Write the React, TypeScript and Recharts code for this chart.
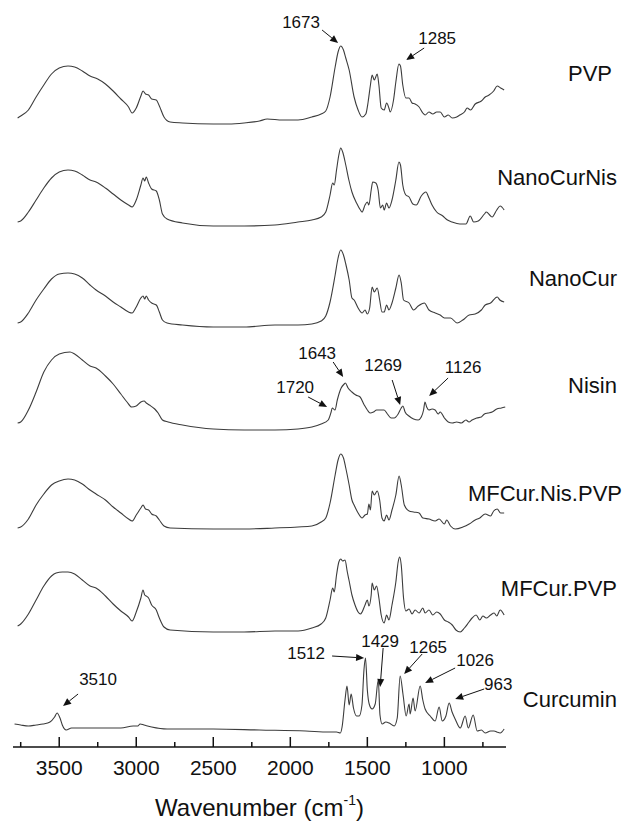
import { LineChart, Line, XAxis, YAxis, ReferenceDot, Label } from 'recharts'

// wavenumber axis (cm-1), reversed as in FTIR plots
const xTicks = [3750, 3500, 3250, 3000, 2750, 2500, 2250, 2000, 1750, 1500, 1250, 1000, 750]

const seriesNames = ['PVP', 'NanoCurNis', 'NanoCur', 'Nisin', 'MFCur.Nis.PVP', 'MFCur.PVP', 'Curcumin']
// vertical stacking offset of each trace (a.u.)
const seriesOffsets = [624, 521, 420, 317, 219, 116, 17]
// where the name sits, relative to the trace offset
const labelLevels = [50, 49, 49, 45, 35, 43, 31]

// [wavenumber, intensity]
const pvp = [
  [3770, 5], [3750, 7], [3700, 13], [3650, 26], [3600, 38], [3550, 49], [3500, 55], [3443, 57], [3400, 56],
  [3350, 52], [3300, 47], [3250, 44], [3200, 39], [3150, 32], [3100, 24], [3050, 16], [3027, 10], [3000, 15],
  [2970, 27], [2956, 32], [2940, 29], [2920, 28], [2900, 24], [2870, 23], [2850, 17], [2820, 6], [2780, 1],
  [2700, 0], [2500, -1], [2400, -1], [2300, 0], [2200, 2], [2150, 4], [2050, 3], [1950, 3], [1860, 6],
  [1800, 9], [1770, 12], [1742, 26], [1709, 56], [1690, 71], [1673, 77], [1655, 73], [1640, 65], [1618, 53],
  [1586, 26], [1560, 13], [1534, 6], [1510, 9], [1495, 21], [1480, 38], [1469, 48], [1455, 43], [1436, 49],
  [1425, 38], [1410, 15], [1391, 13], [1375, 20], [1360, 15], [1352, 11], [1330, 23], [1315, 41], [1295, 59],
  [1285, 57], [1270, 38], [1250, 25], [1229, 25], [1210, 20], [1190, 19], [1164, 16], [1140, 10], [1125, 8],
  [1100, 11], [1075, 9], [1050, 11], [1027, 11], [1000, 6], [975, 8], [949, 5], [920, 6], [900, 8], [870, 11],
  [852, 15], [830, 13], [800, 19], [760, 22], [735, 26], [710, 28], [680, 32], [657, 37], [635, 35], [612, 33],
]

const nanoCurNis = [
  [3770, 4], [3750, 5], [3700, 14], [3650, 26], [3600, 38], [3550, 48], [3500, 54], [3443, 56], [3400, 55],
  [3350, 51], [3300, 46], [3261, 44], [3200, 38], [3150, 32], [3100, 26], [3050, 21], [3027, 19], [3000, 26],
  [2970, 41], [2956, 48], [2945, 45], [2935, 49], [2920, 43], [2900, 37], [2870, 35], [2850, 26], [2830, 12],
  [2800, 7], [2700, 3], [2500, 0], [2300, 0], [2100, 1], [1950, 4], [1860, 6], [1800, 9], [1770, 14],
  [1742, 31], [1725, 43], [1715, 41], [1700, 56], [1685, 71], [1673, 78], [1660, 74], [1640, 61], [1620, 46],
  [1600, 34], [1570, 23], [1545, 16], [1534, 14], [1515, 21], [1500, 24], [1490, 21], [1475, 36], [1465, 44],
  [1445, 43], [1430, 36], [1415, 18], [1400, 21], [1391, 16], [1375, 23], [1360, 18], [1340, 26], [1315, 46],
  [1295, 64], [1285, 61], [1270, 41], [1250, 31], [1229, 29], [1205, 22], [1183, 21], [1150, 30], [1120, 34],
  [1100, 28], [1080, 21], [1050, 14], [1010, 10], [980, 6], [950, 4], [900, 2], [860, 2], [832, 10], [810, 4],
  [780, 5], [740, 12], [728, 14], [700, 10], [690, 9], [660, 16], [638, 20], [612, 16],
]

const nanoCur = [
  [3770, 4], [3750, 5], [3700, 14], [3650, 27], [3600, 38], [3550, 48], [3500, 53], [3443, 54], [3400, 53],
  [3350, 49], [3300, 42], [3261, 37], [3200, 31], [3150, 25], [3100, 20], [3050, 15], [3027, 14], [3000, 20],
  [2970, 29], [2956, 31], [2945, 28], [2935, 31], [2920, 27], [2900, 24], [2870, 22], [2850, 15], [2830, 7],
  [2800, 4], [2700, 2], [2500, 0], [2300, 0], [2100, 2], [1950, 2], [1860, 3], [1800, 6], [1770, 11],
  [1742, 25], [1709, 52], [1690, 69], [1673, 77], [1655, 72], [1640, 63], [1618, 47], [1600, 29], [1586, 27],
  [1560, 19], [1534, 14], [1515, 17], [1500, 13], [1485, 19], [1469, 40], [1455, 35], [1436, 39], [1420, 27],
  [1405, 15], [1391, 15], [1375, 22], [1360, 17], [1340, 24], [1315, 39], [1294, 52], [1280, 44], [1265, 27],
  [1229, 24], [1200, 17], [1170, 21], [1130, 24], [1100, 17], [1060, 14], [1027, 12], [1000, 9], [960, 9],
  [917, 4], [880, 7], [839, 12], [800, 13], [760, 17], [735, 22], [700, 24], [657, 30], [640, 27], [612, 25],
]

const nisin = [
  [3770, 7], [3750, 8], [3700, 20], [3650, 38], [3600, 58], [3550, 70], [3500, 76], [3430, 78], [3400, 76],
  [3350, 70], [3300, 64], [3261, 62], [3200, 54], [3150, 46], [3100, 36], [3060, 28], [3030, 23], [3000, 24],
  [2970, 28], [2949, 29], [2935, 27], [2915, 25], [2880, 21], [2858, 17], [2830, 10], [2793, 8], [2700, 5],
  [2500, 1], [2300, 0], [2100, 0], [1950, 1], [1860, 3], [1800, 6], [1754, 10], [1735, 18], [1728, 22],
  [1710, 20], [1695, 30], [1670, 42], [1650, 46], [1643, 47], [1625, 42], [1600, 38], [1575, 35], [1547, 33],
  [1520, 25], [1500, 20], [1482, 17], [1460, 18], [1440, 20], [1410, 20], [1391, 20], [1370, 16], [1345, 12],
  [1326, 12], [1300, 16], [1280, 22], [1269, 24], [1255, 18], [1230, 14], [1200, 11], [1170, 10], [1150, 13],
  [1135, 20], [1126, 28], [1115, 23], [1100, 20], [1080, 21], [1060, 20], [1040, 16], [1027, 18], [1000, 12],
  [975, 8], [949, 7], [920, 8], [890, 7], [860, 10], [840, 8], [820, 10], [790, 12], [760, 13], [740, 16],
  [716, 17], [690, 18], [660, 21], [630, 22], [605, 23],
]

const mfCurNisPvp = [
  [3770, 0], [3750, 1], [3700, 9], [3650, 23], [3600, 34], [3550, 43], [3500, 47], [3443, 49], [3400, 48],
  [3350, 44], [3300, 38], [3261, 34], [3200, 28], [3150, 21], [3100, 15], [3050, 9], [3027, 7], [3000, 13],
  [2970, 20], [2956, 23], [2940, 19], [2920, 18], [2900, 14], [2870, 12], [2850, 8], [2820, 2], [2780, 0],
  [2500, -1], [2300, -1], [2100, 0], [1950, 1], [1860, 2], [1800, 6], [1770, 10], [1742, 25], [1709, 53],
  [1690, 68], [1673, 74], [1655, 70], [1640, 60], [1618, 43], [1600, 28], [1586, 23], [1560, 15], [1534, 10],
  [1515, 13], [1500, 14], [1490, 24], [1480, 18], [1469, 37], [1455, 33], [1436, 37], [1420, 28], [1405, 10],
  [1391, 7], [1375, 13], [1360, 8], [1340, 18], [1315, 33], [1294, 52], [1280, 43], [1260, 23], [1229, 17],
  [1200, 16], [1164, 15], [1140, 10], [1100, 9], [1060, 7], [1034, 9], [1000, 4], [985, 8], [960, 2],
  [930, -1], [880, 1], [839, 4], [800, 8], [770, 10], [735, 14], [700, 12], [680, 17], [657, 19], [635, 15],
  [612, 15],
]

const mfCurPvp = [
  [3770, 5], [3750, 7], [3700, 17], [3650, 31], [3600, 45], [3550, 55], [3520, 58], [3480, 59], [3443, 59],
  [3400, 57], [3350, 51], [3300, 45], [3261, 43], [3200, 35], [3150, 27], [3100, 20], [3050, 14], [3027, 10],
  [3000, 19], [2970, 33], [2956, 41], [2945, 36], [2935, 35], [2920, 33], [2900, 26], [2870, 21], [2850, 13],
  [2820, 4], [2780, 1], [2500, -1], [2300, -1], [2100, 0], [1950, 0], [1860, 3], [1800, 7], [1770, 13],
  [1742, 31], [1725, 43], [1715, 39], [1700, 56], [1685, 69], [1673, 72], [1660, 70], [1645, 71], [1630, 59],
  [1618, 50], [1600, 36], [1580, 26], [1560, 19], [1545, 17], [1534, 19], [1515, 26], [1500, 31], [1490, 25],
  [1475, 36], [1469, 48], [1455, 41], [1440, 45], [1425, 33], [1410, 16], [1391, 8], [1375, 16], [1360, 11],
  [1340, 26], [1315, 49], [1300, 69], [1290, 74], [1280, 66], [1265, 33], [1250, 20], [1229, 22], [1210, 17],
  [1190, 21], [1164, 18], [1140, 23], [1125, 18], [1100, 21], [1075, 16], [1050, 19], [1027, 17], [1000, 11],
  [975, 9], [949, 6], [925, 1], [897, -1], [870, 3], [840, 9], [820, 13], [794, 16], [770, 11], [750, 15],
  [728, 13], [700, 16], [677, 18], [660, 15], [638, 21], [612, 16],
]

const curcumin = [
  [3790, 6], [3750, 5], [3700, 4], [3650, 5], [3605, 6], [3560, 8], [3530, 13], [3514, 17], [3495, 12],
  [3480, 5], [3455, 0], [3420, 2], [3300, 2], [3100, 2], [3020, 4], [2990, 4], [2975, 6], [2950, 5],
  [2900, 3], [2800, 1], [2500, 1], [2200, 0], [1900, -1], [1750, -2], [1700, -2], [1675, -3], [1664, 3],
  [1645, 30], [1632, 44], [1618, 25], [1605, 36], [1590, 22], [1570, 14], [1553, 14], [1535, 25], [1522, 60],
  [1512, 72], [1500, 40], [1488, 26], [1469, 21], [1449, 26], [1429, 50], [1418, 15], [1404, 6], [1380, 8],
  [1358, 7], [1326, 4], [1306, 12], [1287, 54], [1268, 35], [1248, 14], [1229, 26], [1222, 16], [1203, 32],
  [1190, 19], [1157, 44], [1140, 30], [1125, 21], [1092, 14], [1060, 9], [1034, 23], [1014, 9], [990, 14],
  [969, 27], [950, 18], [930, 11], [897, 2], [865, 14], [845, 2], [813, 15], [787, -1], [760, 0], [735, -3],
  [700, -1], [677, -1], [660, -2], [638, -3], [612, 1],
]

const spectra = [pvp, nanoCurNis, nanoCur, nisin, mfCurNisPvp, mfCurPvp, curcumin]

// peak callouts: text, trace index, arrow tip (wavenumber, intensity on that trace)
const calloutText = ['1673', '1285', '1720', '1643', '1269', '1126', '3510', '1512', '1429', '1265', '1026', '963']
const calloutSeries = [0, 0, 3, 3, 3, 3, 6, 6, 6, 6, 6, 6]
const calloutWn = [1690, 1248, 1761, 1657, 1287, 1099, 3475, 1521, 1417, 1261, 1125, 930]
const calloutLevel = [80, 63, 23, 53, 25, 34, 24, 72, 43, 56, 47, 31]

// pixel layout of each callout relative to its arrow tip: [tailDx, tailDy, textDx, textDy]
const calloutLayout = [
  [-16, -13, -37, -21], [18, -12, 31, -22], [-19, -10, -32, -20], [-10, -15, -26, -24],
  [-8, -25, -17, -40], [19, -18, 34, -29], [15, -12, 35, -27], [-32, -2, -58, -5],
  [3, -39, 0, -46], [18, -20, 24, -27], [30, -15, 50, -23], [29, -10, 43, -15],
]
const labelRight = [106, 111, 111, 111, 116, 111, 111]

const FONT = '"Liberation Sans", Arial, sans-serif'
const INK = '#111'

function WnTick(props: any) {
  const { x, y, payload } = props
  const v = payload.value
  const major = v % 500 === 0
  return (
    <g>
      <line x1={x} x2={x} y1={y} y2={y - (major ? 10 : 5)} stroke={INK} strokeWidth={1.5} />
      {major && (
        <text x={x} y={y + 28} textAnchor="middle" fontSize={21} fill={INK} fontFamily={FONT}>
          {v}
        </text>
      )}
    </g>
  )
}

function AxisTitle(props: any) {
  const { x, y, width } = props.viewBox
  return (
    <text x={x + width / 2} y={y + 69} textAnchor="middle" fontSize={24} fill={INK} fontFamily={FONT}>
      Wavenumber (cm
      <tspan fontSize={14} dy={-11}>-1</tspan>
      <tspan dy={11}>)</tspan>
    </text>
  )
}

function Callout({ cx, cy, text, layout }: any) {
  const [tdx, tdy, lx, ly] = layout
  const tx = cx + tdx
  const ty = cy + tdy
  const len = Math.hypot(cx - tx, cy - ty)
  const ux = (cx - tx) / len
  const uy = (cy - ty) / len
  const head = 8
  const hw = 3.5
  const bx = cx - ux * head
  const by = cy - uy * head
  return (
    <g>
      <line x1={tx} y1={ty} x2={bx} y2={by} stroke={INK} strokeWidth={1} />
      <polygon
        points={`${cx},${cy} ${bx - uy * hw},${by + ux * hw} ${bx + uy * hw},${by - ux * hw}`}
        fill={INK}
      />
      <text x={cx + lx} y={cy + ly} dy="0.35em" textAnchor="middle" fontSize={17} fill={INK} fontFamily={FONT}>
        {text}
      </text>
    </g>
  )
}

export default function App() {
  return (
    <div style={{ position: 'absolute', left: 0, top: 0, background: '#fff' }}>
      <LineChart width={624} height={822} margin={{ top: 20, right: 118, bottom: 15, left: 13 }}>
        <XAxis
          type="number"
          dataKey="wn"
          domain={[600, 3800]}
          reversed
          allowDataOverflow
          ticks={xTicks}
          interval={0}
          height={60}
          tickLine={false}
          tickSize={0}
          tickMargin={0}
          axisLine={{ stroke: INK, strokeWidth: 1.5 }}
          tick={<WnTick />}
        >
          <Label content={<AxisTitle />} />
        </XAxis>
        <YAxis type="number" domain={[0, 727]} hide />
        {spectra.map((pts, i) => (
          <Line
            key={seriesNames[i]}
            name={seriesNames[i]}
            data={pts.map(([wn, a]) => ({ wn, v: seriesOffsets[i] + a }))}
            dataKey="v"
            type="monotone"
            dot={false}
            stroke="#3c3c3c"
            strokeWidth={1.1}
            isAnimationActive={false}
          />
        ))}
        {seriesNames.map((name, i) => (
          <ReferenceDot
            key={'lbl' + name}
            x={600}
            y={seriesOffsets[i] + labelLevels[i]}
            ifOverflow="visible"
            shape={(p: any) => (
              <text x={p.cx + labelRight[i]} y={p.cy} dy="0.35em" textAnchor="end" fontSize={22} fill={INK} fontFamily={FONT}>
                {name}
              </text>
            )}
          />
        ))}
        {calloutText.map((t, i) => (
          <ReferenceDot
            key={'c' + i}
            x={calloutWn[i]}
            y={seriesOffsets[calloutSeries[i]] + calloutLevel[i]}
            ifOverflow="visible"
            shape={(p: any) => <Callout cx={p.cx} cy={p.cy} text={t} layout={calloutLayout[i]} />}
          />
        ))}
      </LineChart>
    </div>
  )
}
